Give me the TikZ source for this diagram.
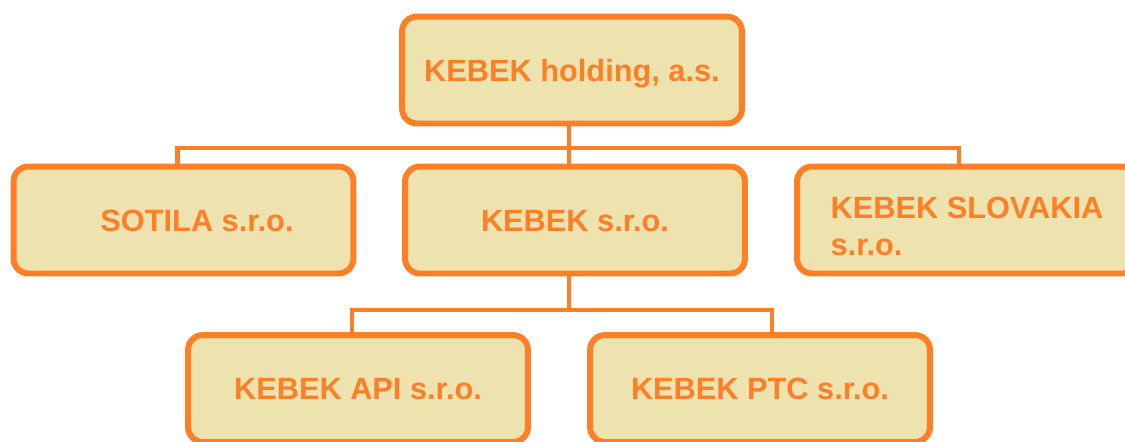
\documentclass[tikz,border=0pt]{standalone}
\usepackage{fontspec}
\setmainfont{Liberation Sans}
\definecolor{kborange}{HTML}{FF7F27}
\definecolor{kbfill}{HTML}{EEE3AF}

\begin{document}
\begin{tikzpicture}[x=0.02cm,y=-0.02cm,
    firm/.style={draw=kborange,fill=kbfill,line width=3.4pt,rounded corners=0.3cm,
        minimum width=6.8cm,minimum height=2.14cm,text=kborange,
        font=\fontsize{17.5}{21.5}\selectfont\bfseries,text height=12.6pt,text depth=0pt},
    link/.style={draw=kborange,line width=2.8pt}]
    \useasboundingbox (0,0) rectangle (1125,441);
        \node[firm] (holding) at (572,70) {KEBEK holding, a.s.};
        \node[firm] (sotila) at (183.5,220) {\hspace*{0.54cm}SOTILA s.r.o.};
        \node[firm] (kebek) at (575,220) {KEBEK s.r.o.};
        \node[firm,align=left,text height=40.8pt] (slovakia) at (967,220) {KEBEK SLOVAKIA\\s.r.o.};
        \node[firm] (api) at (358,388.5) {KEBEK API s.r.o.};
        \node[firm] (ptc) at (760,388.5) {KEBEK PTC s.r.o.};
        % connectors
        \draw[link] ([xshift=-0.06cm]holding.south) -- ++(0,21.5) coordinate (bus1);
        \draw[link] ([xshift=-0.12cm]sotila.north) |- (bus1) -| ([xshift=-0.16cm]slovakia.north);
        \draw[link] (bus1) -- (bus1 |- kebek.north);
        \draw[link] ([xshift=-0.12cm]kebek.south) -- ++(0,33.5) coordinate (bus2);
        \draw[link] ([xshift=-0.12cm]api.north) |- (bus2) -| ([xshift=0.24cm]ptc.north);
\end{tikzpicture}
\end{document}
